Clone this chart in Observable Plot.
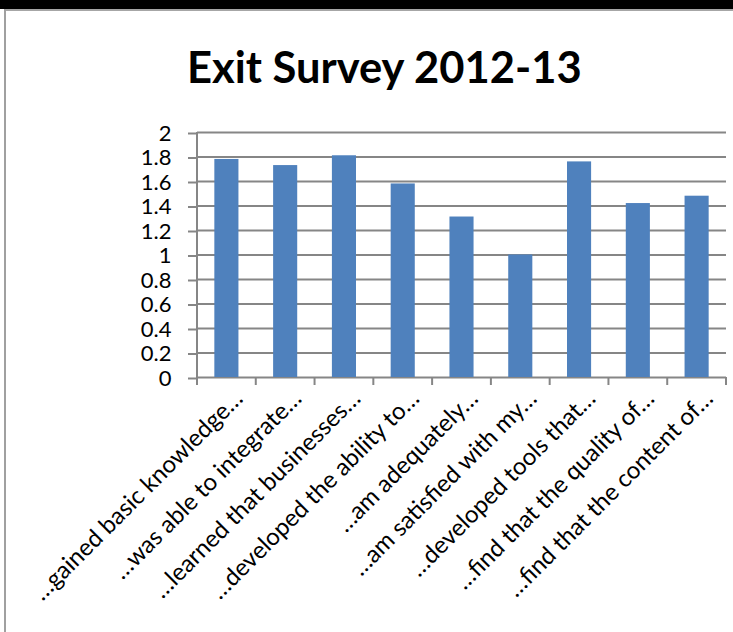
<!DOCTYPE html>
<html>
<head>
<meta charset="utf-8">
<script src="https://cdn.jsdelivr.net/npm/d3@7"></script>
<script src="https://cdn.jsdelivr.net/npm/@observablehq/plot@0.6"></script>
<style>
  html, body { margin: 0; padding: 0; background: #fff; }
  #wrap { position: relative; width: 733px; height: 632px; background: #fff; overflow: hidden; font-family: Lato, "Open Sans", sans-serif; }
  #topbar { position: absolute; left: 0; top: 0; width: 733px; height: 9px; background: #000; }
  #topline { position: absolute; left: 4px; top: 9px; width: 729px; height: 2px; background: #a6a6a6; }
  #leftline { position: absolute; left: 4px; top: 9px; width: 2px; height: 623px; background: #a0a0a0; }
  #title { position: absolute; left: 187px; top: 44px; font-weight: bold; font-size: 43.5px; line-height: 44px; color: #000; white-space: nowrap; }
  #chart { position: absolute; left: 0; top: 0; }
</style>
</head>
<body>
<div id="wrap">
  <div id="topbar"></div>
  <div id="topline"></div>
  <div id="leftline"></div>
  <div id="chart"></div>
  <div id="title">Exit Survey 2012-13</div>
</div>
<script>
const categories = [
  "…gained basic knowledge…",
  "…was able to integrate…",
  "…learned that businesses…",
  "…developed the ability to…",
  "…am adequately…",
  "…am satisfied with my…",
  "…developed tools that…",
  "…find that the quality of…",
  "…find that the content of…"
];
const values = [1.78, 1.73, 1.81, 1.58, 1.31, 1.00, 1.76, 1.42, 1.48];
const yTicks = [0, 0.2, 0.4, 0.6, 0.8, 1, 1.2, 1.4, 1.6, 1.8, 2];
const yTickLabels = ["0", "0.2", "0.4", "0.6", "0.8", "1", "1.2", "1.4", "1.6", "1.8", "2"];

const data = categories.map((c, i) => ({cat: c, v: values[i]}));
const gridColor = "#868686";

const plot = Plot.plot({
  width: 733,
  height: 632,
  marginLeft: 197,
  marginRight: 7,
  marginTop: 132,
  marginBottom: 255,
  style: {fontFamily: "Lato, 'Open Sans', sans-serif", color: "#000", background: "transparent", overflow: "visible"},
  x: {domain: categories, paddingInner: 0.59, paddingOuter: 0.295, align: 0.5, round: false, label: null},
  y: {domain: [0, 2], label: null},
  marks: [
    Plot.gridY(yTicks, {stroke: gridColor, strokeOpacity: 1, strokeWidth: 2}),
    Plot.barY(data, {x: "cat", y: "v", fill: "#4F81BD"}),
    Plot.axisY(yTicks, {
      tickSize: 9, tickPadding: 17, stroke: gridColor, strokeWidth: 2, strokeOpacity: 1,
      fontSize: 22, dy: 1, tickFormat: (d) => yTickLabels[yTicks.indexOf(d)]
    }),
    Plot.axisX({
      tickRotate: -45, tickSize: 0, tickPadding: 0, dx: 12, dy: 17,
      fontSize: 24, textAnchor: "end"
    })
  ]
});

document.getElementById("chart").appendChild(plot);

// Excel-style axis line and category boundary tick marks, from the plot's own scales
const xs = plot.scale("x");
const ys = plot.scale("y");
const step = xs.step, bw = xs.bandwidth;
const y0 = ys.apply(0), yTop = ys.apply(2);
const bounds = categories.map(c => xs.apply(c) - (step - bw) / 2);
bounds.push(bounds[bounds.length - 1] + step);
const svg = d3.select(plot);
const g = svg.append("g").attr("stroke", gridColor).attr("stroke-width", 2);
g.append("line").attr("x1", bounds[0]).attr("x2", bounds[0]).attr("y1", yTop).attr("y2", y0 + 8);
g.selectAll("line.tk").data(bounds.slice(1)).join("line")
  .attr("class", "tk")
  .attr("x1", d => d).attr("x2", d => d).attr("y1", y0).attr("y2", y0 + 8);
</script>
</body>
</html>
